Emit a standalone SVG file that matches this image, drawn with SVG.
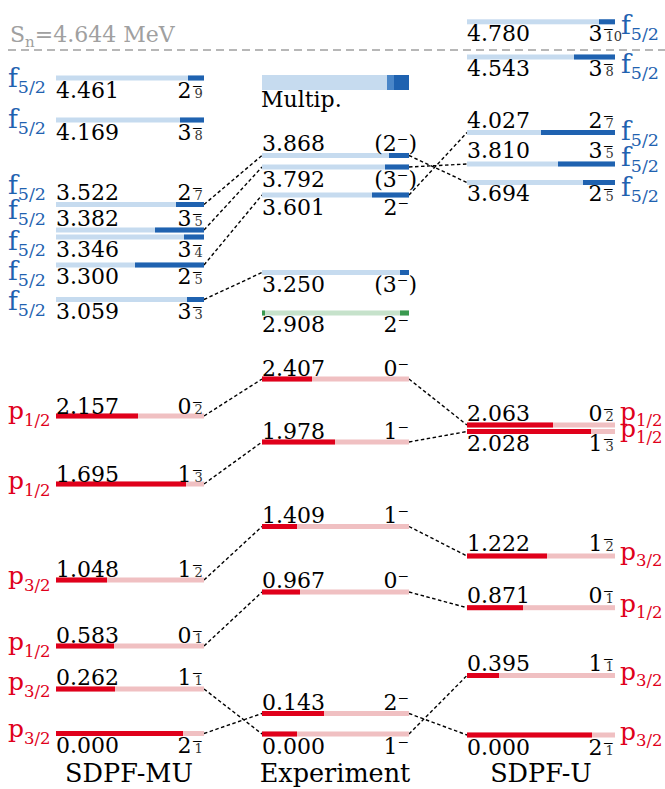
<svg xmlns="http://www.w3.org/2000/svg" width="665" height="789" viewBox="0 0 665 789">
<style>
text{font-family:"DejaVu Serif","Liberation Serif",serif}
.num{font-size:22px;fill:#000}
.idx{font-size:13px;fill:#333}
.orb{font-size:25px}
.fo{font-size:26.5px}
.ttl{font-size:25.5px;fill:#000;text-anchor:middle}
.bl{fill:#1f62b0}
.rd{fill:#e0001b}
.lb{fill:#c6dbef}
.db{fill:#1f62b0}
.lr{fill:#f0c0c2}
.dr{fill:#e0001b}
.lg{fill:#c6e2cb}
.dg{fill:#3a9a50}
.con line{stroke:#000;stroke-width:1.4;stroke-dasharray:3.5 2.5}
.end{text-anchor:end}
</style>
<rect width="665" height="789" fill="#fff"/>
<g id="sn">
<text x="10" y="42" style="font-size:22px;fill:#a0a0a0">S<tspan font-size="15" dy="5">n</tspan><tspan dy="-5">=4.644 MeV</tspan></text>
<line x1="8" y1="50" x2="665" y2="50" stroke="#a0a0a0" stroke-width="1.6" stroke-dasharray="8 5"/>
</g>
<g id="multip">
<rect x="262" y="75" width="125" height="15" class="lb"/>
<rect x="387" y="75" width="7" height="15" fill="#4a86c8"/>
<rect x="394" y="75" width="15" height="15" class="db"/>
<text x="261" y="107" class="num">Multip.</text>
</g>
<g class="con" id="connectors">
<line x1="204" y1="204.5" x2="262" y2="155.5"/>
<line x1="204" y1="230" x2="262" y2="167"/>
<line x1="204" y1="265" x2="262" y2="195"/>
<line x1="204" y1="299.5" x2="262" y2="272.5"/>
<line x1="204" y1="416" x2="262" y2="379"/>
<line x1="204" y1="484" x2="262" y2="442"/>
<line x1="204" y1="580" x2="262" y2="526.5"/>
<line x1="204" y1="646" x2="262" y2="592"/>
<line x1="204" y1="689" x2="262" y2="734"/>
<line x1="204" y1="733.5" x2="262" y2="713.5"/>
<line x1="409" y1="155.5" x2="467" y2="182.5"/>
<line x1="409" y1="167" x2="467" y2="164"/>
<line x1="409" y1="195" x2="467" y2="132.5"/>
<line x1="409" y1="379" x2="467" y2="425"/>
<line x1="409" y1="442" x2="467" y2="431.5"/>
<line x1="409" y1="526.5" x2="467" y2="556"/>
<line x1="409" y1="592" x2="467" y2="607.7"/>
<line x1="409" y1="713.5" x2="467" y2="735"/>
<line x1="409" y1="734" x2="467" y2="675.5"/>
</g>
<!-- SDPF-MU -->
<g id="mu-4461">
<rect x="56" y="75.5" width="148" height="5" class="lb"/><rect x="188" y="75.5" width="16" height="5" class="db"/>
<text x="56" y="98" class="num">4.461</text><text x="203" y="98" class="num end">2⁻</text><text x="194.5" y="98" class="idx">9</text>
<text x="8" y="87" class="fo bl">f<tspan font-size="17.5" dy="6">5/2</tspan></text>
</g>
<g id="mu-4169">
<rect x="56" y="117.5" width="148" height="5" class="lb"/><rect x="180" y="117.5" width="24" height="5" class="db"/>
<text x="56" y="140" class="num">4.169</text><text x="203" y="140" class="num end">3⁻</text><text x="194.5" y="140" class="idx">8</text>
<text x="8" y="128" class="fo bl">f<tspan font-size="17.5" dy="6">5/2</tspan></text>
</g>
<g id="mu-3522">
<rect x="56" y="202" width="148" height="5" class="lb"/><rect x="176" y="202" width="28" height="5" class="db"/>
<text x="56" y="200" class="num">3.522</text><text x="203" y="200" class="num end">2⁻</text><text x="194.5" y="200" class="idx">7</text>
<text x="8" y="194" class="fo bl">f<tspan font-size="17.5" dy="6">5/2</tspan></text>
</g>
<g id="mu-3382">
<rect x="56" y="227.5" width="148" height="5" class="lb"/><rect x="155" y="227.5" width="49" height="5" class="db"/>
<text x="56" y="225.5" class="num">3.382</text><text x="203" y="225.5" class="num end">3⁻</text><text x="194.5" y="225.5" class="idx">5</text>
<text x="8" y="219" class="fo bl">f<tspan font-size="17.5" dy="6">5/2</tspan></text>
</g>
<g id="mu-3346">
<rect x="56" y="234.5" width="148" height="5" class="lb"/><rect x="184" y="234.5" width="20" height="5" class="db"/>
<text x="56" y="257" class="num">3.346</text><text x="203" y="257" class="num end">3⁻</text><text x="194.5" y="257" class="idx">4</text>
<text x="8" y="250" class="fo bl">f<tspan font-size="17.5" dy="6">5/2</tspan></text>
</g>
<g id="mu-3300">
<rect x="56" y="262.5" width="148" height="5" class="lb"/><rect x="135" y="262.5" width="69" height="5" class="db"/>
<text x="56" y="284" class="num">3.300</text><text x="203" y="284" class="num end">2⁻</text><text x="194.5" y="284" class="idx">5</text>
<text x="8" y="280" class="fo bl">f<tspan font-size="17.5" dy="6">5/2</tspan></text>
</g>
<g id="mu-3059">
<rect x="56" y="297" width="148" height="5" class="lb"/><rect x="187" y="297" width="17" height="5" class="db"/>
<text x="56" y="319" class="num">3.059</text><text x="203" y="319" class="num end">3⁻</text><text x="194.5" y="319" class="idx">3</text>
<text x="8" y="310" class="fo bl">f<tspan font-size="17.5" dy="6">5/2</tspan></text>
</g>
<g id="mu-2157">
<rect x="56" y="413.5" width="148" height="5" class="lr"/><rect x="56" y="413.5" width="82" height="5" class="dr"/>
<text x="56" y="414" class="num">2.157</text><text x="203" y="414" class="num end">0⁻</text><text x="194.5" y="414" class="idx">2</text>
<text x="8" y="419" class="orb rd">p<tspan font-size="16.5" dy="7">1/2</tspan></text>
</g>
<g id="mu-1695">
<rect x="56" y="481.5" width="148" height="5" class="lr"/><rect x="56" y="481.5" width="130" height="5" class="dr"/>
<text x="56" y="482" class="num">1.695</text><text x="203" y="482" class="num end">1⁻</text><text x="194.5" y="482" class="idx">3</text>
<text x="8" y="488.5" class="orb rd">p<tspan font-size="16.5" dy="7">1/2</tspan></text>
</g>
<g id="mu-1048">
<rect x="56" y="577.5" width="148" height="5" class="lr"/><rect x="56" y="577.5" width="51" height="5" class="dr"/>
<text x="56" y="577" class="num">1.048</text><text x="203" y="577" class="num end">1⁻</text><text x="194.5" y="577" class="idx">2</text>
<text x="8" y="583.5" class="orb rd">p<tspan font-size="16.5" dy="7">3/2</tspan></text>
</g>
<g id="mu-0583">
<rect x="56" y="643.5" width="148" height="5" class="lr"/><rect x="56" y="643.5" width="58" height="5" class="dr"/>
<text x="56" y="643" class="num">0.583</text><text x="203" y="643" class="num end">0⁻</text><text x="194.5" y="643" class="idx">1</text>
<text x="8" y="650" class="orb rd">p<tspan font-size="16.5" dy="7">1/2</tspan></text>
</g>
<g id="mu-0262">
<rect x="56" y="686.5" width="148" height="5" class="lr"/><rect x="56" y="686.5" width="59" height="5" class="dr"/>
<text x="56" y="685" class="num">0.262</text><text x="203" y="685" class="num end">1⁻</text><text x="194.5" y="685" class="idx">1</text>
<text x="8" y="690" class="orb rd">p<tspan font-size="16.5" dy="7">3/2</tspan></text>
</g>
<g id="mu-0000">
<rect x="56" y="731" width="148" height="5" class="lr"/><rect x="56" y="731" width="127" height="5" class="dr"/>
<text x="56" y="753" class="num">0.000</text><text x="203" y="753" class="num end">2⁻</text><text x="194.5" y="753" class="idx">1</text>
<text x="8" y="737" class="orb rd">p<tspan font-size="16.5" dy="7">3/2</tspan></text>
</g>
<text id="title-mu" x="129" y="782" class="ttl">SDPF-MU</text>
<!-- Experiment -->
<g id="ex-3868">
<rect x="262" y="153" width="147" height="5" class="lb"/><rect x="389" y="153" width="20" height="5" class="db"/>
<text x="262" y="151" class="num">3.868</text><text x="417" y="151" class="num end">(2⁻)</text>
</g>
<g id="ex-3792">
<rect x="262" y="164.5" width="147" height="5" class="lb"/><rect x="385" y="164.5" width="24" height="5" class="db"/>
<text x="262" y="187" class="num">3.792</text><text x="417" y="187" class="num end">(3⁻)</text>
</g>
<g id="ex-3601">
<rect x="262" y="192.5" width="147" height="5" class="lb"/><rect x="372" y="192.5" width="37" height="5" class="db"/>
<text x="262" y="215" class="num">3.601</text><text x="409" y="215" class="num end">2⁻</text>
</g>
<g id="ex-3250">
<rect x="262" y="270" width="147" height="5" class="lb"/><rect x="400" y="270" width="9" height="5" class="db"/>
<text x="262" y="292" class="num">3.250</text><text x="417" y="292" class="num end">(3⁻)</text>
</g>
<g id="ex-2908">
<rect x="262" y="310.5" width="147" height="5" class="lg"/><rect x="262" y="310.5" width="3" height="5" class="dg"/><rect x="400" y="310.5" width="9" height="5" class="dg"/>
<text x="262" y="332" class="num">2.908</text><text x="409" y="332" class="num end">2⁻</text>
</g>
<g id="ex-2407">
<rect x="262" y="376.5" width="147" height="5" class="lr"/><rect x="262" y="376.5" width="50" height="5" class="dr"/>
<text x="262" y="376" class="num">2.407</text><text x="409" y="376" class="num end">0⁻</text>
</g>
<g id="ex-1978">
<rect x="262" y="439.5" width="147" height="5" class="lr"/><rect x="262" y="439.5" width="73" height="5" class="dr"/>
<text x="262" y="439" class="num">1.978</text><text x="409" y="439" class="num end">1⁻</text>
</g>
<g id="ex-1409">
<rect x="262" y="524" width="147" height="5" class="lr"/><rect x="262" y="524" width="35" height="5" class="dr"/>
<text x="262" y="523" class="num">1.409</text><text x="409" y="523" class="num end">1⁻</text>
</g>
<g id="ex-0967">
<rect x="262" y="589.5" width="147" height="5" class="lr"/><rect x="262" y="589.5" width="38" height="5" class="dr"/>
<text x="262" y="588" class="num">0.967</text><text x="409" y="588" class="num end">0⁻</text>
</g>
<g id="ex-0143">
<rect x="262" y="711" width="147" height="5" class="lr"/><rect x="262" y="711" width="62" height="5" class="dr"/>
<text x="262" y="710" class="num">0.143</text><text x="409" y="710" class="num end">2⁻</text>
</g>
<g id="ex-0000">
<rect x="262" y="731.5" width="147" height="5" class="lr"/><rect x="262" y="731.5" width="35" height="5" class="dr"/>
<text x="262" y="754" class="num">0.000</text><text x="409" y="754" class="num end">1⁻</text>
</g>
<text id="title-ex" x="335" y="782" class="ttl">Experiment</text>
<!-- SDPF-U -->
<g id="u-4780">
<rect x="467" y="19.3" width="148" height="5" class="lb"/><rect x="599" y="19.3" width="16" height="5" class="db"/>
<text x="467" y="41" class="num">4.780</text><text x="614" y="41" class="num end">3⁻</text><text x="605.5" y="41" class="idx">10</text>
<text x="621" y="34" class="fo bl">f<tspan font-size="17.5" dy="6">5/2</tspan></text>
</g>
<g id="u-4543">
<rect x="467" y="54.5" width="148" height="5" class="lb"/><rect x="574" y="54.5" width="41" height="5" class="db"/>
<text x="467" y="76" class="num">4.543</text><text x="614" y="76" class="num end">3⁻</text><text x="605.5" y="76" class="idx">8</text>
<text x="621" y="73" class="fo bl">f<tspan font-size="17.5" dy="6">5/2</tspan></text>
</g>
<g id="u-4027">
<rect x="467" y="130" width="148" height="5" class="lb"/><rect x="541" y="130" width="74" height="5" class="db"/>
<text x="467" y="128" class="num">4.027</text><text x="614" y="128" class="num end">2⁻</text><text x="605.5" y="128" class="idx">7</text>
<text x="621" y="140" class="fo bl">f<tspan font-size="17.5" dy="6">5/2</tspan></text>
</g>
<g id="u-3810">
<rect x="467" y="161.5" width="148" height="5" class="lb"/><rect x="558" y="161.5" width="57" height="5" class="db"/>
<text x="467" y="158" class="num">3.810</text><text x="614" y="158" class="num end">3⁻</text><text x="605.5" y="158" class="idx">5</text>
<text x="621" y="166" class="fo bl">f<tspan font-size="17.5" dy="6">5/2</tspan></text>
</g>
<g id="u-3694">
<rect x="467" y="180" width="148" height="5" class="lb"/><rect x="583" y="180" width="32" height="5" class="db"/>
<text x="467" y="201" class="num">3.694</text><text x="614" y="201" class="num end">2⁻</text><text x="605.5" y="201" class="idx">5</text>
<text x="621" y="196" class="fo bl">f<tspan font-size="17.5" dy="6">5/2</tspan></text>
</g>
<g id="u-2063">
<rect x="467" y="422.5" width="148" height="5" class="lr"/><rect x="467" y="422.5" width="86" height="5" class="dr"/>
<text x="467" y="421" class="num">2.063</text><text x="614" y="421" class="num end">0⁻</text><text x="605.5" y="421" class="idx">2</text>
<text x="620" y="420" class="orb rd">p<tspan font-size="16.5" dy="6">1/2</tspan></text>
</g>
<g id="u-2028">
<rect x="467" y="429" width="148" height="5" class="lr"/><rect x="467" y="429" width="124" height="5" class="dr"/>
<text x="467" y="451" class="num">2.028</text><text x="614" y="451" class="num end">1⁻</text><text x="605.5" y="451" class="idx">3</text>
<text x="620" y="436.5" class="orb rd">p<tspan font-size="16.5" dy="6">1/2</tspan></text>
</g>
<g id="u-1222">
<rect x="467" y="553.5" width="148" height="5" class="lr"/><rect x="467" y="553.5" width="80" height="5" class="dr"/>
<text x="467" y="551" class="num">1.222</text><text x="614" y="551" class="num end">1⁻</text><text x="605.5" y="551" class="idx">2</text>
<text x="620" y="560" class="orb rd">p<tspan font-size="16.5" dy="6">3/2</tspan></text>
</g>
<g id="u-0871">
<rect x="467" y="605.2" width="148" height="5" class="lr"/><rect x="467" y="605.2" width="56" height="5" class="dr"/>
<text x="467" y="603" class="num">0.871</text><text x="614" y="603" class="num end">0⁻</text><text x="605.5" y="603" class="idx">1</text>
<text x="620" y="611.5" class="orb rd">p<tspan font-size="16.5" dy="6">1/2</tspan></text>
</g>
<g id="u-0395">
<rect x="467" y="673" width="148" height="5" class="lr"/><rect x="467" y="673" width="32" height="5" class="dr"/>
<text x="467" y="671" class="num">0.395</text><text x="614" y="671" class="num end">1⁻</text><text x="605.5" y="671" class="idx">1</text>
<text x="620" y="680" class="orb rd">p<tspan font-size="16.5" dy="6">3/2</tspan></text>
</g>
<g id="u-0000">
<rect x="467" y="732.5" width="148" height="5" class="lr"/><rect x="467" y="732.5" width="125" height="5" class="dr"/>
<text x="467" y="755" class="num">0.000</text><text x="614" y="755" class="num end">2⁻</text><text x="605.5" y="755" class="idx">1</text>
<text x="620" y="739.5" class="orb rd">p<tspan font-size="16.5" dy="6">3/2</tspan></text>
</g>
<text id="title-u" x="541" y="782" class="ttl">SDPF-U</text>
</svg>
